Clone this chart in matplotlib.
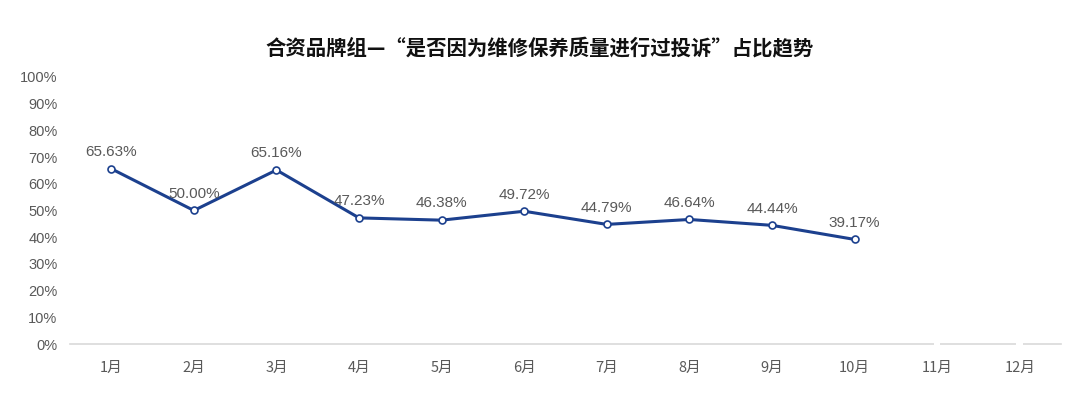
import numpy as np
import matplotlib
matplotlib.use("Agg")
import matplotlib.pyplot as plt

plt.rcParams['font.family'] = ['Liberation Sans', 'Noto Sans CJK SC', 'DejaVu Sans']

# data
months = ["1月", "2月", "3月", "4月", "5月", "6月", "7月", "8月", "9月", "10月", "11月", "12月"]
share = [65.63, 50.00, 65.16, 47.23, 46.38, 49.72, 44.79, 46.64, 44.44, 39.17]
title = "合资品牌组—“是否因为维修保养质量进行过投诉”占比趋势"

line_col = "#1c408e"
txt_col = "#595959"

fig = plt.figure(figsize=(10.8, 3.95), dpi=100)
ax = fig.add_axes([0.0648, 0.1291, 0.9176, 0.676])

x = np.arange(len(months))
xs = x[:len(share)]
ax.plot(xs, share, color=line_col, lw=2.2, marker="o", ms=5,
        mfc="white", mec=line_col, mew=1.2, zorder=3)

for xi, v in zip(xs, share):
    ax.annotate(f"{v:.2f}%", (xi, v), xytext=(0, 7), textcoords="offset points",
                ha="center", va="bottom", fontsize=11, color=txt_col)

ax.set_xlim(-0.5, len(months) - 0.5)
ax.set_ylim(0, 100)
ax.set_yticks(np.arange(0, 101, 10))
ax.set_yticklabels([f"{t}%" for t in range(0, 101, 10)])
ax.set_xticks(x)
ax.set_xticklabels(months, family=['Noto Sans CJK SC', 'DejaVu Sans'])
ax.tick_params(axis="both", length=0, labelsize=10.5, colors=txt_col)
ax.tick_params(axis="x", pad=12)
ax.tick_params(axis="y", pad=9)

for s in ["top", "right", "left"]:
    ax.spines[s].set_visible(False)
ax.spines["bottom"].set_color("#d9d9d9")
ax.spines["bottom"].set_linewidth(1.2)

# little breaks in the axis line at the empty months
for xi in x[len(share):]:
    ax.plot([xi - 0.04, xi + 0.04], [0, 0], color="white", lw=3,
            zorder=5, clip_on=False, solid_capstyle="butt")

fig.text(0.5, 0.88, title, ha="center", va="center", fontsize=14.7,
         fontweight="bold", family=['Noto Sans CJK SC', 'DejaVu Sans'], color="#111111")

fig.savefig("out.png", dpi=100, facecolor="white")
